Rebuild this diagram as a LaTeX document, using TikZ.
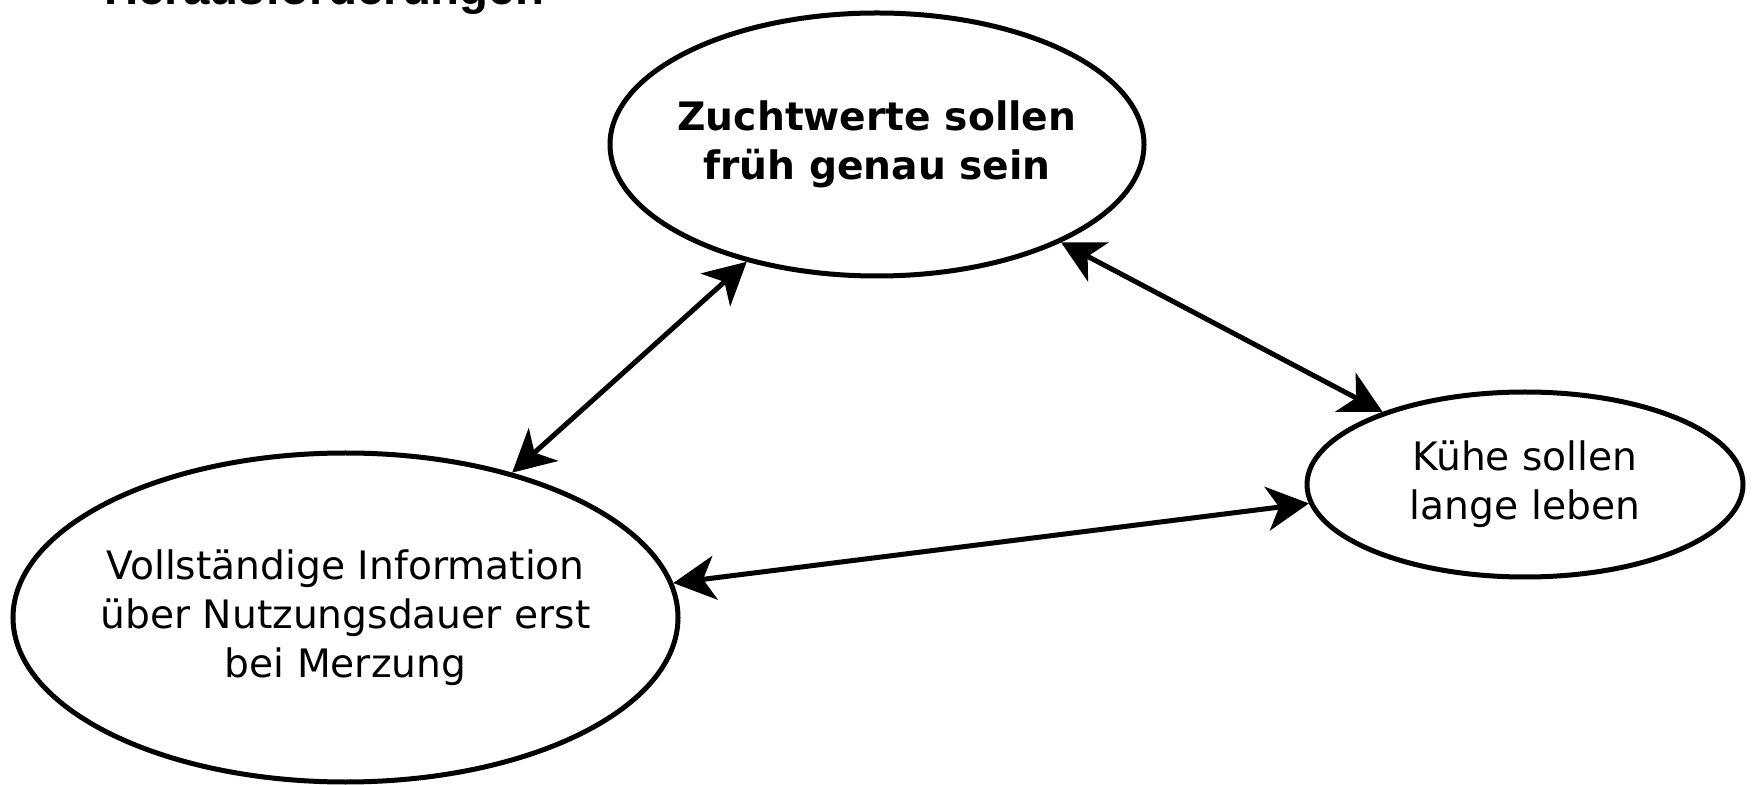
\documentclass[tikz,border=0pt]{standalone}
\usepackage{fontspec}
\setmainfont{DejaVu Sans}
\newfontfamily\titlefont{Liberation Sans}
\usetikzlibrary{shapes.geometric,arrows.meta}
\tikzset{
  ell/.style={draw=black, line width=2.5pt, shape=ellipse, inner sep=0pt, fill=white},
  txt/.style={align=center, inner sep=0pt, font=\fontsize{19.6pt}{24.5pt}\selectfont},
  conn/.style={line width=2.5pt, {Stealth[length=21pt,width=22pt,inset=6pt]}-{Stealth[length=21pt,width=22pt,inset=6pt]}}
}
\begin{document}
\begin{tikzpicture}[x=0.5pt,y=-0.5pt]
\useasboundingbox (0,0) rectangle (1756,785);
\node[anchor=base west, inner sep=0pt, font=\titlefont\bfseries\fontsize{23.7pt}{28pt}\selectfont] (title) at (104,5) {Herausforderungen};

\node[ell, minimum width=267pt, minimum height=131.5pt] (top) at (877,144.5) {};
\node[txt, font=\fontsize{19.6pt}{24.5pt}\selectfont\bfseries] (toptxt) at (top.center) {Zuchtwerte sollen\\früh genau sein};

\node[ell, minimum width=218pt, minimum height=92.5pt] (right) at (1525,484.5) {};
\node[txt] (righttxt) at (right.center) {Kühe sollen\\lange leben};

\node[ell, minimum width=332.5pt, minimum height=164.5pt] (left) at (345.5,617.5) {};
\node[txt] (lefttxt) at (left.center) {Vollständige Information\\über Nutzungsdauer erst\\bei Merzung};

\draw[conn] (left.41.4) -- (top.222.2);
\draw[conn] (top.332.4) -- (right.153);
\draw[conn] (right.185.7) -- (left.6.3);
\end{tikzpicture}
\end{document}
